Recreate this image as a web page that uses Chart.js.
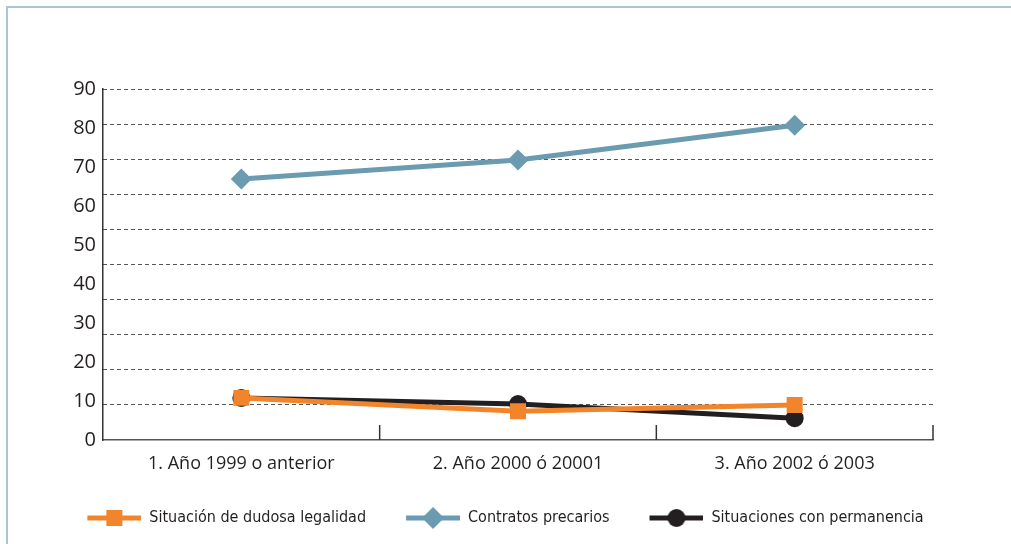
<!DOCTYPE html>
<html>
<head>
<meta charset="utf-8">
<script src="https://cdn.jsdelivr.net/npm/chart.js@4"></script>
<style>
  body { margin: 0; background: #fff; }
  #wrap { position: relative; width: 1011px; height: 544px; overflow: hidden; }
  #frame { position: absolute; left: 6px; top: 6px; width: 1100px; height: 600px;
           border-top: 2px solid #a9c6d6; border-left: 2px solid #a9c6d6; }
  canvas { position: absolute; left: 0; top: 0; }
</style>
</head>
<body>
<div id="wrap">
  <div id="frame"></div>
  <canvas id="chart" width="1011" height="544"></canvas>
</div>
<script>
const categories = ["1. Año 1999 o anterior", "2. Año 2000 ó 20001", "3. Año 2002 ó 2003"];
const dudosa = [10.8, 7.4, 9.0];
const precarios = [66.9, 71.8, 80.7];
const permanencia = [10.8, 9.2, 5.6];
const yTicks = [0, 10, 20, 30, 40, 50, 60, 70, 80, 90];

const ORANGE = "#f2852b";
const BLUE = "#6b9bb0";
const BLACK = "#231f20";
const TEXT = "#231f20";

// legend icon: short line with the marker in the middle (transparent margin on the left)
const ICON_PAD = 22;
function legendIcon(color, shape) {
    const c = document.createElement("canvas");
    c.width = 54 + ICON_PAD;
    c.height = 24;
    const g = c.getContext("2d");
    g.translate(ICON_PAD, 0);
    g.strokeStyle = color;
    g.lineWidth = 5;
    g.beginPath();
    g.moveTo(0, 12);
    g.lineTo(54, 12);
    g.stroke();
    g.fillStyle = color;
    g.beginPath();
    if (shape === "rect") {
        g.rect(19, 4, 16, 16);
    } else if (shape === "diamond") {
        g.moveTo(27, 1); g.lineTo(38, 12); g.lineTo(27, 23); g.lineTo(16, 12);
    } else {
        g.arc(27, 12, 9, 0, Math.PI * 2);
    }
    g.fill();
    return c;
}

// short upward tick marks between categories on the x axis
const catTicks = {
    id: "catTicks",
    afterDraw(chart) {
        const x = chart.scales.x;
        const ctx = chart.ctx;
        const bottom = chart.chartArea.bottom;
        ctx.save();
        ctx.strokeStyle = "#333";
        ctx.lineWidth = 1.5;
        for (let i = 0; i < categories.length; i++) {
            const px = (x.getPixelForValue(i) + x.getPixelForValue(i + 1)) / 2;
            ctx.beginPath();
            ctx.moveTo(px, bottom);
            ctx.lineTo(px, bottom - 15);
            ctx.stroke();
        }
        ctx.restore();
    }
};

const ctx = document.getElementById("chart").getContext("2d");
new Chart(ctx, {
    type: "line",
    data: {
        labels: categories,
        datasets: [
            {
                label: "Situación de dudosa legalidad",
                data: dudosa,
                borderColor: ORANGE,
                backgroundColor: ORANGE,
                borderWidth: 5,
                pointStyle: "rect",
                pointRadius: 11.3,
                pointBorderWidth: 0,
                tension: 0,
                legendIcon: legendIcon(ORANGE, "rect"),
            },
            {
                label: "Contratos precarios",
                data: precarios,
                borderColor: BLUE,
                backgroundColor: BLUE,
                borderWidth: 5,
                pointStyle: "rectRot",
                pointRadius: 10.5,
                pointBorderWidth: 0,
                tension: 0,
                legendIcon: legendIcon(BLUE, "diamond"),
            },
            {
                label: "Situaciones con permanencia",
                data: permanencia,
                borderColor: BLACK,
                backgroundColor: BLACK,
                borderWidth: 5,
                pointStyle: "circle",
                pointRadius: 9,
                pointBorderWidth: 0,
                tension: 0,
                legendIcon: legendIcon(BLACK, "circle"),
            },
        ],
    },
    options: {
        responsive: false,
        animation: false,
        layout: { padding: { left: 0, right: 22, top: 89, bottom: 8 } },
        plugins: {
            tooltip: { enabled: false },
            legend: {
                position: "bottom",
                labels: {
                    usePointStyle: true,
                    pointStyleWidth: 54 + ICON_PAD,
                    padding: 18,
                    color: TEXT,
                    font: { family: "'Liberation Sans Narrow', 'DejaVu Sans Condensed', sans-serif", size: 16 },
                    generateLabels(chart) {
                        return chart.data.datasets.map((ds, i) => ({
                            text: ds.label,
                            pointStyle: ds.legendIcon,
                            fillStyle: ds.borderColor,
                            strokeStyle: ds.borderColor,
                            lineWidth: 0,
                            fontColor: TEXT,
                            hidden: false,
                            datasetIndex: i,
                        }));
                    },
                },
            },
        },
        scales: {
            x: {
                offset: true,
                afterFit(axis) { axis.height = 52; },
                grid: { display: false },
                border: { display: true, color: "#555", width: 1.5 },
                ticks: {
                    color: TEXT,
                    padding: 5,
                    maxRotation: 0,
                    font: { family: "'Open Sans', sans-serif", size: 18 },
                },
            },
            y: {
                min: 0,
                max: 90,
                afterFit(axis) { axis.width = 103; },
                afterBuildTicks(axis) {
                    axis.ticks = yTicks.map(v => ({ value: v }));
                },
                grid: { display: false, drawTicks: false },
                border: { display: true, color: "#333", width: 1.5 },
                ticks: {
                    color: TEXT,
                    padding: 7,
                    font: { family: "'Open Sans', sans-serif", size: 20 },
                },
            },
            // dashed reference lines, spaced as in the source figure
            y2: {
                position: "right",
                min: 0,
                max: 100,
                afterFit(axis) { axis.width = 56; },
                ticks: { display: false, stepSize: 10 },
                border: { display: false, dash: [4, 3] },
                grid: {
                    drawTicks: false,
                    color: c => (c.tick.value === 0 ? "rgba(0,0,0,0)" : "#555"),
                    lineWidth: 1,
                },
            },
        },
    },
    plugins: [catTicks],
});
</script>
</body>
</html>
